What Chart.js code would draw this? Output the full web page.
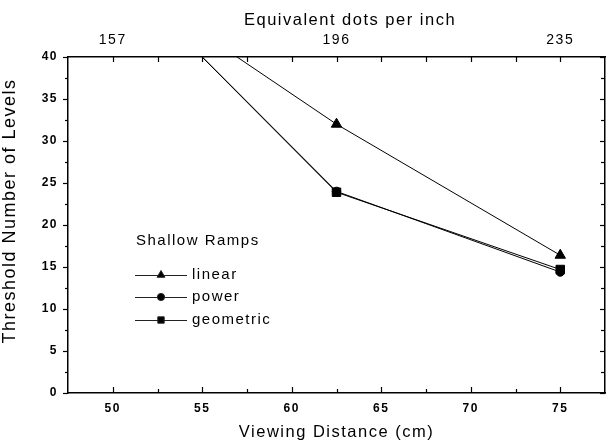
<!DOCTYPE html>
<html>
<head>
<meta charset="utf-8">
<script src="https://cdn.jsdelivr.net/npm/chart.js@4"></script>
<style>
  body { margin: 0; background: #fff; }
  #wrap { width: 606px; height: 442px; }
</style>
</head>
<body>
<div id="wrap"><canvas id="rampChart" width="606" height="442"></canvas></div>
<script>
// viewing distance (cm) and threshold levels per ramp type
const distances = [50, 62.5, 75]
const linearLevels = [50, 32, 16.4]
const powerLevels = [50.7, 24, 14.4]
const geometricLevels = [50.7, 23.9, 14.7]

const bottomTicks = [50, 55, 60, 65, 70, 75]
const bottomMinor = [52.5, 57.5, 62.5, 67.5, 72.5]
const topTickValues = [50, 62.5, 75]
const topTickLabels = ['157', '196', '235']
const topMarks = [50, 52.5, 55, 57.5, 60, 62.5, 65, 67.5, 70, 72.5, 75]
const yTicks = [0, 5, 10, 15, 20, 25, 30, 35, 40]
const yMinor = [2.5, 7.5, 12.5, 17.5, 22.5, 27.5, 32.5, 37.5]

const legendTitle = 'Shallow Ramps'
const topTitle = 'Equivalent dots per inch'
const yTitle = 'Threshold Number of Levels'
const FONT = '"Liberation Sans", Arial, sans-serif'

const toPoints = (ys) => distances.map((d, i) => ({ x: d, y: ys[i] }))

// tick marks like the original plot
const tickMarks = {
    id: 'tickMarks',
    afterDraw(chart) {
        const { ctx, chartArea: a, scales } = chart
        ctx.save()
        ctx.strokeStyle = '#000'
        ctx.lineWidth = 1.2
        const line = (x1, y1, x2, y2) => {
            ctx.beginPath(); ctx.moveTo(x1, y1); ctx.lineTo(x2, y2); ctx.stroke()
        }
        bottomTicks.forEach(v => { const x = Math.round(scales.x.getPixelForValue(v)) + 0.5; line(x, a.bottom, x, a.bottom - 6) })
        bottomMinor.forEach(v => { const x = Math.round(scales.x.getPixelForValue(v)) + 0.5; line(x, a.bottom, x, a.bottom - 4) })
        topMarks.forEach(v => { const x = Math.round(scales.x.getPixelForValue(v)) + 0.5; line(x, a.top, x, a.top + 5) })
        yTicks.forEach(v => {
            const y = Math.round(scales.y.getPixelForValue(v)) + 0.5
            line(a.left, y, a.left - 5, y)
            line(a.right, y, a.right - 5, y)
        })
        yMinor.forEach(v => {
            const y = Math.round(scales.y.getPixelForValue(v)) + 0.5
            line(a.left, y, a.left - 3, y)
            line(a.right, y, a.right - 4, y)
        })
        ctx.restore()
    }
}

// titles placed where the original has them, legend inside the plot
const texts = {
    id: 'texts',
    afterDraw(chart) {
        const ctx = chart.ctx
        ctx.save()
        ctx.letterSpacing = '1.5px'
        ctx.fillStyle = '#000'
        ctx.textBaseline = 'middle'
        ctx.textAlign = 'center'
        ctx.font = '16.5px ' + FONT
        ctx.fillText(topTitle, 350, 20)
        ctx.save()
        ctx.translate(10, 211)
        ctx.rotate(-Math.PI / 2)
        ctx.font = '18px ' + FONT
        ctx.fillText(yTitle, 0, 0)
        ctx.restore()

        ctx.textAlign = 'left'
        ctx.font = '15px ' + FONT
        ctx.fillText(legendTitle, 136, 241)
        const rows = [275, 297, 320]
        chart.data.datasets.forEach((ds, i) => {
            const y = rows[i]
            ctx.strokeStyle = '#222'
            ctx.lineWidth = 1
            ctx.beginPath(); ctx.moveTo(135, y + 0.5); ctx.lineTo(187, y + 0.5); ctx.stroke()
            Chart.helpers.drawPoint(ctx, {
                pointStyle: ds.pointStyle, radius: ds.legendRadius, borderWidth: 1, rotation: 0
            }, 161, y)
            ctx.fillStyle = '#000'
            ctx.fillText(ds.label, 192, y)
        })
        ctx.restore()
    }
}

const spacing = {
    id: 'spacing',
    beforeDraw(chart) { chart.ctx.letterSpacing = '1.5px' }
}

const noPad = s => { s.paddingLeft = 0; s.paddingRight = 0 }

const ctx = document.getElementById('rampChart')
Chart.defaults.font.family = FONT
Chart.defaults.color = '#000'

const chart = new Chart(ctx, {
    type: 'line',
    data: {
        datasets: [
            {
                label: 'linear', data: toPoints(linearLevels), pointStyle: 'triangle',
                pointRadius: 6, legendRadius: 4.5, order: 2
            },
            {
                label: 'power', data: toPoints(powerLevels), pointStyle: 'circle',
                pointRadius: 4.2, legendRadius: 3.6, order: 1
            },
            {
                label: 'geometric', data: toPoints(geometricLevels), pointStyle: 'rect',
                pointRadius: 6, legendRadius: 4.5, order: 0
            }
        ].map(ds => Object.assign({
            borderColor: '#000',
            backgroundColor: '#000',
            pointBackgroundColor: '#000',
            pointBorderColor: '#000',
            borderWidth: 1,
            pointBorderWidth: 1,
            tension: 0
        }, ds))
    },
    options: {
        responsive: false,
        animation: false,
        devicePixelRatio: 1,
        layout: { autoPadding: false, padding: { right: 1 } },
        events: [],
        scales: {
            x: {
                type: 'linear',
                position: 'bottom',
                min: 47.5,
                max: 77.5,
                afterBuildTicks: s => { s.ticks = bottomTicks.map(v => ({ value: v })) },
                afterFit: s => { s.height = 49; noPad(s) },
                grid: { display: false, drawTicks: false },
                border: { display: true, color: '#000', width: 1.5 },
                ticks: { font: { size: 12, weight: 'bold' }, padding: 8, maxRotation: 0 },
                title: {
                    display: true, text: 'Viewing Distance (cm)',
                    font: { size: 16.5 }, padding: { top: 0, bottom: 0 }
                }
            },
            x2: {
                type: 'linear',
                position: 'top',
                min: 47.5,
                max: 77.5,
                afterBuildTicks: s => { s.ticks = topTickValues.map(v => ({ value: v })) },
                afterFit: s => { s.height = 57; noPad(s) },
                grid: { display: false, drawTicks: false },
                border: { display: true, color: '#000', width: 1.5 },
                ticks: {
                    font: { size: 14 }, padding: 8, maxRotation: 0,
                    callback: (v) => topTickLabels[topTickValues.indexOf(v)]
                }
            },
            y: {
                min: 0,
                max: 40,
                afterBuildTicks: s => { s.ticks = yTicks.map(v => ({ value: v })) },
                afterFit: s => { s.width = 68 },
                grid: { display: false, drawTicks: false },
                border: { display: true, color: '#000', width: 1.5 },
                ticks: { font: { size: 12, weight: 'bold' }, padding: 10 }
            },
            y2: {
                position: 'right',
                min: 0,
                max: 40,
                afterFit: s => { s.width = 0 },
                grid: { display: false, drawTicks: false },
                border: { display: true, color: '#000', width: 1.5 },
                ticks: { display: false }
            }
        },
        plugins: {
            legend: { display: false },
            tooltip: { enabled: false }
        }
    },
    plugins: [spacing, tickMarks, texts]
})
</script>
</body>
</html>
